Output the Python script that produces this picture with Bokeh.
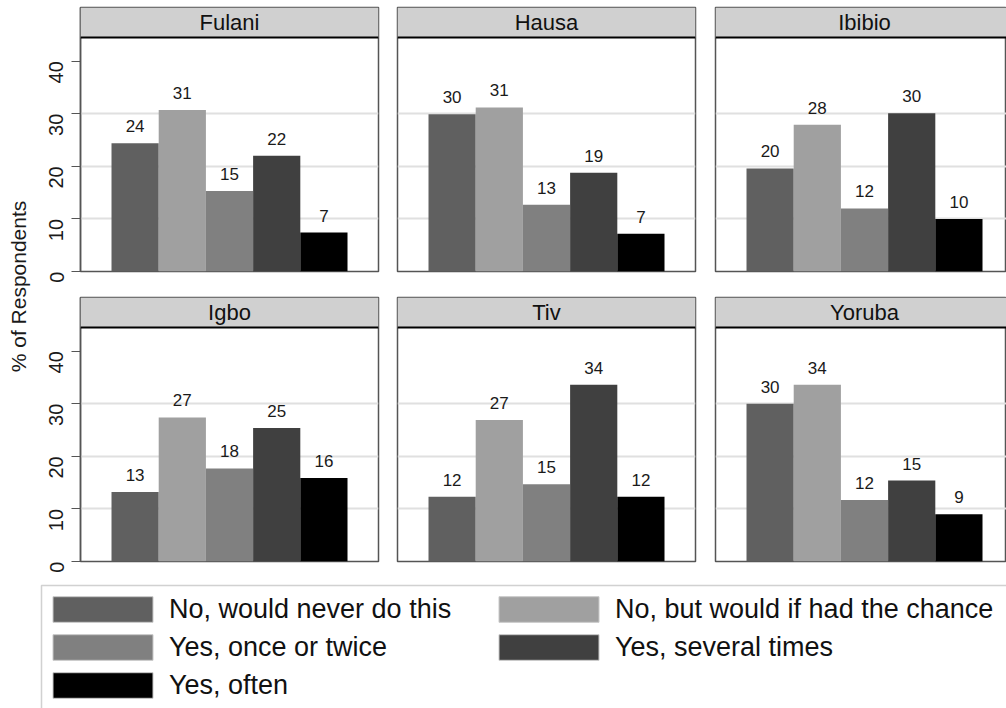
import math

from bokeh.core.properties import value
from bokeh.embed import file_html
from bokeh.layouts import column, row
from bokeh.models import (BoxAnnotation, ColumnDataSource, FixedTicker, Grid,
                          Label, Legend, LegendItem, Range1d, Span)
from bokeh.plotting import figure
from bokeh.resources import INLINE

# ---- data -------------------------------------------------------------
groups = ["Fulani", "Hausa", "Ibibio", "Igbo", "Tiv", "Yoruba"]
responses = [
    "No, would never do this",
    "No, but would if had the chance",
    "Yes, once or twice",
    "Yes, several times",
    "Yes, often",
]
# % of respondents per ethnic group, one list per response
never = [24.4, 29.9, 19.6, 13.2, 12.3, 30.0]
would_if_chance = [30.7, 31.2, 27.9, 27.4, 26.9, 33.6]
once_or_twice = [15.3, 12.7, 12.0, 17.7, 14.7, 11.7]
several_times = [22.0, 18.8, 30.1, 25.4, 33.6, 15.4]
often = [7.4, 7.2, 10.0, 15.9, 12.3, 9.0]
y_ticks = [0, 10, 20, 30, 40]
grid_ticks = [10, 20, 30]

series = [never, would_if_chance, once_or_twice, several_times, often]
colors = ["#606060", "#a0a0a0", "#808080", "#404040", "#000000"]

FONT = "Liberation Sans"
Y_TOP = 50.2
HEADER_BASE = 44.5
FRAME_H = 264
PX_PER_UNIT = FRAME_H / Y_TOP
X_START = -0.157
UNIT_PX = 47.2
OUTLINE = "#555555"
LABEL_GAP_PX = 17
TITLE_RAISE_PX = 14.5
YLAB_W = 31


def panel(idx, col, top_row):
    frame_w = 298 if col < 2 else 291
    left = 80 - YLAB_W if col == 0 else 9
    right = {0: 10, 1: 11, 2: 0}[col]
    x_end = X_START + frame_w / UNIT_PX
    p = figure(
        width=left + frame_w + right,
        height=285 if top_row else 290,
        x_range=Range1d(X_START, x_end),
        y_range=Range1d(0, Y_TOP),
        toolbar_location=None,
        output_backend="svg",
        x_axis_location=None,
        y_axis_location="left" if col == 0 else None,
        min_border_left=left,
        min_border_right=right,
        min_border_top=7 if top_row else 12,
        min_border_bottom=14,
        background_fill_color="white",
        border_fill_color="white",
    )
    p.xgrid.visible = False
    p.ygrid.visible = False
    p.outline_line_color = OUTLINE
    p.outline_line_width = 1.5
    p.add_layout(Grid(dimension=1, ticker=FixedTicker(ticks=grid_ticks),
                      grid_line_color="#e0e0e0", grid_line_width=2))

    if col == 0:
        ax = p.yaxis[0]
        ax.ticker = FixedTicker(ticks=y_ticks)
        ax.major_label_orientation = math.pi / 2
        ax.major_tick_out = 9
        ax.major_tick_in = 0
        ax.minor_tick_out = 0
        ax.minor_tick_in = 0
        ax.axis_line_color = OUTLINE
        ax.axis_line_width = 1.5
        ax.major_tick_line_color = OUTLINE
        ax.major_tick_line_width = 1.2
        ax.major_label_standoff = 15
        ax.major_label_text_font = FONT
        ax.major_label_text_font_size = "20px"
        ax.major_label_text_color = "#1a1a1a"

    vals = [s[idx] for s in series]
    src = ColumnDataSource(dict(
        x=[1, 2, 3, 4, 5],
        top=vals,
        label_y=[v + LABEL_GAP_PX / PX_PER_UNIT for v in vals],
        color=colors,
        label=[f"{v:.0f}" for v in vals],
    ))
    p.vbar(x="x", top="top", width=1, fill_color="color", line_color=None,
           source=src)
    p.text(x="x", y="label_y", text="label", source=src, text_align="center",
           text_baseline="alphabetic",
           text_font=value(FONT), text_font_size="17px", text_color="#1a1a1a")

    # facet strip
    p.add_layout(BoxAnnotation(bottom=HEADER_BASE, fill_color="#d0d0d0",
                               fill_alpha=1, line_color=None))
    p.add_layout(Span(location=HEADER_BASE, dimension="width",
                      line_color="black", line_width=2))
    p.add_layout(Label(x=X_START + 149 / UNIT_PX,
                       y=HEADER_BASE + TITLE_RAISE_PX / PX_PER_UNIT,
                       text=groups[idx],
                       text_align="center", text_baseline="alphabetic",
                       text_font=FONT, text_font_size="22px",
                       text_color="#111111"))
    return p


top = row(*[panel(i, i, True) for i in range(3)])
bottom = row(*[panel(i + 3, i, False) for i in range(3)])

# shared y-axis title
ylab = figure(width=YLAB_W, height=575, toolbar_location=None,
              output_backend="svg",
              x_axis_location=None, y_axis_location=None,
              outline_line_color=None, min_border=0,
              x_range=Range1d(0, 1), y_range=Range1d(0, 1))
ylab.xgrid.visible = False
ylab.ygrid.visible = False
ylab.add_layout(Label(x=18, y=289, x_units="screen", y_units="screen",
                      text="% of Respondents", angle=math.pi / 2,
                      text_align="center", text_baseline="middle",
                      text_font=FONT, text_font_size="21px",
                      text_color="#1a1a1a"))

# legend panel
leg_fig = figure(width=1006, height=133, toolbar_location=None,
                 output_backend="svg", x_axis_location=None,
                 y_axis_location=None, outline_line_color=None,
                 min_border_left=22, min_border_right=0, min_border_top=0,
                 min_border_bottom=0, x_range=Range1d(0, 1),
                 y_range=Range1d(0, 1))
leg_fig.xgrid.visible = False
leg_fig.ygrid.visible = False
leg_fig.add_layout(BoxAnnotation(left=19, right=3000, bottom=-200, top=123,
                                 left_units="screen", right_units="screen",
                                 top_units="screen", bottom_units="screen",
                                 fill_color="white", fill_alpha=1,
                                 line_color="#666666", line_width=1.5))
# zero-size keys: they only supply the legend swatch colours
key_src = ColumnDataSource(dict(x=[-5] * len(responses), color=colors))
key_r = leg_fig.vbar(x="x", top=0, bottom=0, width=0, fill_color="color",
                     line_color="#c8c8c8", line_width=1, source=key_src)
items = [LegendItem(label=name, renderers=[key_r], index=k)
         for k, name in enumerate(responses)]
legend = Legend(items=items, location="top_left", orientation="horizontal",
                ncols=2, glyph_width=125, glyph_height=32, label_standoff=4,
                label_width=311, spacing=6, padding=0, margin=18,
                border_line_color=None, background_fill_alpha=0,
                label_text_font=FONT, label_text_font_size="27px",
                label_text_color="#111111")
leg_fig.add_layout(legend)

layout = column(row(ylab, column(top, bottom)), leg_fig)

open("out.html", "w").write(file_html(layout, INLINE))
